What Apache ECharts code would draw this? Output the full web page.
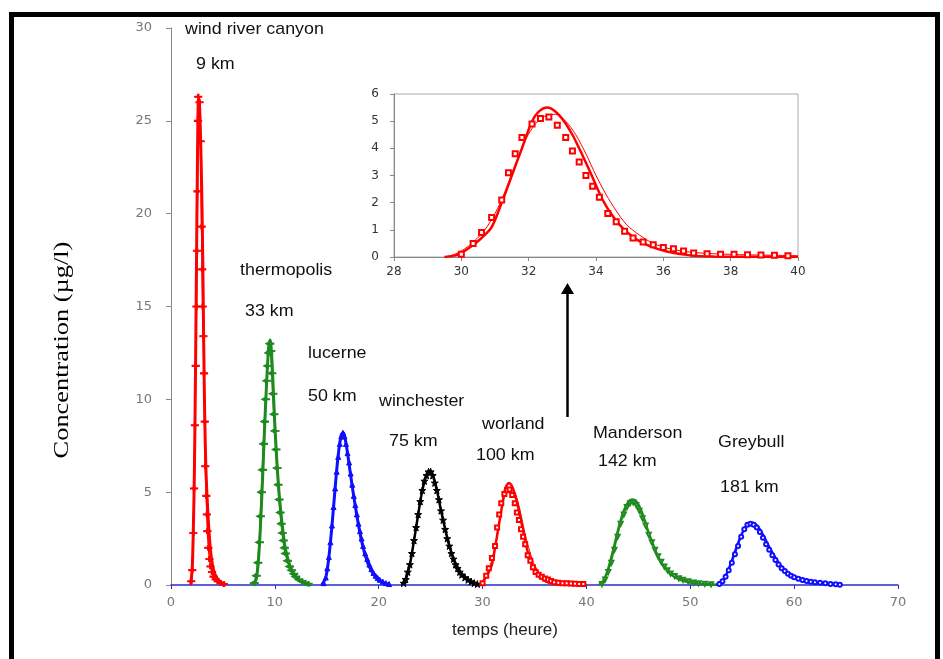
<!DOCTYPE html>
<html><head><meta charset="utf-8">
<script src="https://cdn.jsdelivr.net/npm/echarts@6/dist/echarts.min.js"></script>
<style>html,body{margin:0;padding:0;background:#fff}#c{width:943px;height:659px}</style>
</head><body><div id="c"></div>
<script>
// ---- data (time in hours, concentration in µg/l) ----
var xTicks = [0, 10, 20, 30, 40, 50, 60, 70];
var yTicks = [0, 5, 10, 15, 20, 25, 30];
var stationNames = ["wind river canyon", "thermopolis", "lucerne", "winchester", "worland", "Manderson", "Greybull"];
var stationDist = ["9 km", "33 km", "50 km", "75 km", "100 km", "142 km", "181 km"];

var sim1 = [[1.9,0],[2.05,1],[2.15,3],[2.25,6],[2.35,11],[2.45,17],[2.55,23],[2.65,26.2],[2.75,25.8],[2.85,24],[2.95,21.5],[3.05,18],[3.15,13],[3.25,9],[3.35,6.5],[3.45,5],[3.6,3.4],[3.75,2.2],[3.9,1.4],[4.1,0.8],[4.4,0.4],[4.8,0.15],[5.2,0]];
var obs1 = [[1.95,0.2],[2.05,0.8],[2.15,2.8],[2.22,5.2],[2.3,8.6],[2.38,11.8],[2.45,15.0],[2.5,18.0],[2.55,21.2],[2.6,25.0],[2.62,26.3],[2.75,26.0],[2.85,23.9],[2.95,19.3],[3.0,17.0],[3.05,15.0],[3.12,13.4],[3.18,11.4],[3.25,8.8],[3.3,6.4],[3.4,4.8],[3.45,3.8],[3.5,2.9],[3.6,2.0],[3.7,1.4],[3.8,1.0],[3.95,0.7],[4.1,0.45],[4.3,0.3],[4.5,0.2],[4.8,0.1],[5.1,0.05]];
var sim2 = [[7.9,0],[8.2,0.3],[8.4,1.2],[8.6,3],[8.8,5.5],[9.0,8.3],[9.2,10.8],[9.4,12.8],[9.55,13.2],[9.7,12.3],[9.85,10.5],[10.0,8.6],[10.2,6.6],[10.4,5.0],[10.6,3.8],[10.8,2.8],[11.0,2.0],[11.3,1.3],[11.6,0.8],[12.0,0.45],[12.5,0.2],[13.0,0.08],[13.5,0]];
var obs2 = [[8.0,0.1],[8.2,0.5],[8.35,1.2],[8.5,2.3],[8.6,3.7],[8.7,5.0],[8.8,6.2],[8.9,7.6],[9.0,8.8],[9.1,10.0],[9.2,11.0],[9.3,11.8],[9.4,12.5],[9.5,13.0],[9.6,12.6],[9.7,11.4],[9.8,10.3],[9.9,9.2],[10.0,8.3],[10.1,7.3],[10.2,6.3],[10.3,5.4],[10.4,4.6],[10.5,3.9],[10.6,3.3],[10.7,2.8],[10.8,2.4],[10.9,2.0],[11.0,1.7],[11.2,1.3],[11.4,1.0],[11.6,0.8],[11.8,0.6],[12.0,0.45],[12.3,0.3],[12.6,0.2],[12.9,0.12],[13.2,0.06]];
var sim3 = [[14.5,0],[14.9,0.4],[15.2,1.5],[15.5,3.2],[15.8,5.2],[16.1,7.0],[16.4,8.1],[16.6,8.2],[16.8,7.8],[17.1,6.7],[17.4,5.5],[17.7,4.4],[18.0,3.4],[18.3,2.5],[18.6,1.8],[19.0,1.1],[19.5,0.6],[20.0,0.3],[20.5,0.12],[21.0,0.04]];
var obs3 = [[14.7,0.1],[14.9,0.4],[15.05,0.9],[15.2,1.5],[15.35,2.3],[15.5,3.2],[15.65,4.2],[15.8,5.2],[15.95,6.1],[16.1,6.9],[16.25,7.6],[16.4,8.0],[16.55,8.2],[16.7,8.0],[16.85,7.6],[17.0,7.1],[17.15,6.6],[17.3,6.0],[17.45,5.4],[17.6,4.8],[17.75,4.3],[17.9,3.8],[18.05,3.3],[18.2,2.9],[18.35,2.5],[18.5,2.1],[18.7,1.7],[18.9,1.4],[19.1,1.1],[19.3,0.85],[19.5,0.65],[19.7,0.5],[19.9,0.38],[20.1,0.28],[20.4,0.18],[20.7,0.1],[21.0,0.05]];
var sim4 = [[22.2,0],[22.6,0.3],[23.0,1.1],[23.4,2.4],[23.8,3.8],[24.2,5.1],[24.6,5.9],[24.9,6.1],[25.2,5.9],[25.6,5.1],[26.0,4.0],[26.4,3.0],[26.8,2.1],[27.2,1.4],[27.6,0.9],[28.0,0.55],[28.5,0.3],[29.0,0.12],[29.6,0.03]];
var obs4 = [[22.4,0.1],[22.6,0.3],[22.8,0.7],[23.0,1.1],[23.2,1.7],[23.4,2.4],[23.6,3.1],[23.8,3.8],[24.0,4.5],[24.2,5.1],[24.4,5.6],[24.6,5.9],[24.8,6.1],[25.0,6.1],[25.2,5.9],[25.4,5.5],[25.6,5.1],[25.8,4.6],[26.0,4.0],[26.2,3.5],[26.4,3.0],[26.6,2.5],[26.8,2.1],[27.0,1.7],[27.2,1.4],[27.4,1.1],[27.6,0.9],[27.8,0.7],[28.0,0.55],[28.3,0.4],[28.6,0.28],[28.9,0.18],[29.2,0.1],[29.5,0.05]];
var sim5 = [[29.5,0],[29.8,0.05],[30.0,0.15],[30.3,0.4],[30.6,0.7],[30.9,1.1],[31.2,2.0],[31.5,3.0],[31.8,4.0],[32.1,5.0],[32.3,5.35],[32.55,5.5],[32.8,5.35],[33.05,5.0],[33.3,4.5],[33.5,4.0],[33.8,3.2],[34.2,2.1],[34.5,1.5],[34.8,1.05],[35.2,0.65],[35.6,0.4],[36.1,0.2],[36.8,0.06],[37.5,0.02],[40,0]];
var alt5 = [[29.5,0],[29.8,0.1],[30.1,0.3],[30.4,0.6],[30.7,1.0],[31.0,1.6],[31.3,2.4],[31.6,3.4],[31.9,4.3],[32.2,4.9],[32.5,5.2],[32.8,5.25],[33.1,5.0],[33.4,4.5],[33.7,3.8],[34.0,3.0],[34.3,2.3],[34.6,1.7],[34.9,1.2],[35.3,0.8],[35.7,0.5],[36.2,0.3],[36.8,0.18],[37.5,0.12],[38.5,0.08],[40,0.05]];
var obs5 = [[30.0,0.1],[30.35,0.5],[30.6,0.9],[30.9,1.45],[31.2,2.1],[31.4,3.1],[31.6,3.8],[31.8,4.4],[32.1,4.9],[32.35,5.1],[32.6,5.15],[32.85,4.85],[33.1,4.4],[33.3,3.9],[33.5,3.5],[33.7,3.0],[33.9,2.6],[34.1,2.2],[34.35,1.6],[34.6,1.3],[34.85,0.95],[35.1,0.7],[35.4,0.55],[35.7,0.45],[36.0,0.35],[36.3,0.3],[36.6,0.22],[36.9,0.15],[37.3,0.12],[37.7,0.1],[38.1,0.1],[38.5,0.08],[38.9,0.07],[39.3,0.06],[39.7,0.05]];
var sim6 = [[41.2,0],[41.6,0.2],[42.0,0.7],[42.4,1.5],[42.8,2.4],[43.2,3.3],[43.6,4.0],[44.0,4.45],[44.4,4.6],[44.8,4.5],[45.2,4.1],[45.6,3.5],[46.0,2.8],[46.4,2.2],[46.8,1.65],[47.2,1.2],[47.7,0.85],[48.2,0.55],[48.8,0.35],[49.5,0.2],[50.3,0.1],[51.2,0.05],[52.5,0.01]];
var obs6 = [[41.5,0.05],[41.8,0.3],[42.1,0.7],[42.4,1.2],[42.7,1.9],[43.0,2.6],[43.3,3.3],[43.6,3.8],[43.9,4.2],[44.2,4.4],[44.5,4.45],[44.8,4.3],[45.1,4.0],[45.4,3.6],[45.7,3.2],[46.0,2.7],[46.3,2.3],[46.6,1.9],[46.9,1.55],[47.2,1.25],[47.5,1.0],[47.8,0.8],[48.1,0.62],[48.5,0.48],[48.9,0.36],[49.3,0.28],[49.8,0.2],[50.3,0.14],[50.8,0.1],[51.4,0.07],[52.0,0.04]];
var sim7 = [[52.5,0],[53.0,0.15],[53.5,0.6],[54.0,1.3],[54.5,2.1],[55.0,2.8],[55.5,3.25],[56.0,3.35],[56.5,3.15],[57.0,2.7],[57.5,2.15],[58.0,1.65],[58.5,1.2],[59.0,0.85],[59.5,0.6],[60.0,0.42],[60.7,0.25],[61.5,0.14],[62.5,0.07],[63.5,0.03],[64.4,0.01]];
var obs7 = [[52.8,0.05],[53.1,0.2],[53.4,0.45],[53.7,0.8],[54.0,1.2],[54.3,1.65],[54.6,2.1],[54.9,2.6],[55.2,3.0],[55.5,3.25],[55.8,3.3],[56.1,3.25],[56.4,3.1],[56.7,2.85],[57.0,2.55],[57.3,2.2],[57.6,1.9],[57.9,1.6],[58.2,1.35],[58.5,1.1],[58.8,0.9],[59.1,0.75],[59.4,0.6],[59.7,0.5],[60.0,0.42],[60.4,0.34],[60.8,0.27],[61.2,0.22],[61.6,0.18],[62.0,0.15],[62.5,0.12],[63.0,0.09],[63.5,0.06],[64.0,0.04],[64.4,0.02]];

// ---- styling ----
var RED = '#ff0000', GREEN = '#1f8a1f', BLUE = '#1010ff', BLACK = '#000000';
var FONT = 'Liberation Sans, Arial, sans-serif';

function simSeries(data, color, w, xi) {
  return {type: 'line', data: data, xAxisIndex: xi || 0, yAxisIndex: xi || 0, showSymbol: false, symbol: 'none',
    smooth: 0.3, lineStyle: {color: color, width: w}, itemStyle: {color: color}, z: 3, silent: true, animation: false};
}
function obsSeries(data, color, symbol, size, lineW, xi, rot) {
  return {type: 'line', data: data, xAxisIndex: xi || 0, yAxisIndex: xi || 0, showSymbol: true, symbol: symbol,
    symbolSize: size, symbolRotate: rot || 0, lineStyle: {color: color, width: lineW, opacity: lineW ? 1 : 0},
    itemStyle: {color: color, borderColor: color, borderWidth: 1}, z: 4, silent: true, animation: false};
}

var dashSym = 'path://M0,3 L10,3 L10,5 L0,5 Z M4,0 L6,0 L6,8 L4,8 Z';
var leftTri = 'path://M0,4 L7,0 L7,3 L12,3 L12,5 L7,5 L7,8 Z';
var starSym = 'path://M5,0 L6.2,3.6 L10,3.6 L7,5.9 L8.1,9.5 L5,7.3 L1.9,9.5 L3,5.9 L0,3.6 L3.8,3.6 Z';

var series = [
  simSeries(sim1, RED, 3), obsSeries(obs1, RED, dashSym, [7, 5], 1.5),
  simSeries(sim2, GREEN, 3), obsSeries(obs2, GREEN, leftTri, [8, 5], 1.5),
  simSeries(sim3, BLUE, 3), obsSeries(obs3, BLUE, 'triangle', 5, 1.5),
  simSeries(sim4, BLACK, 2.5), obsSeries(obs4, BLACK, starSym, 7, 1.2),
  simSeries(sim5, RED, 2.5), simSeries(alt5, RED, 1), obsSeries(obs5, RED, 'emptyRect', 4, 0),
  simSeries(sim6, GREEN, 2.5), obsSeries(obs6, GREEN, 'emptyTriangle', 4, 1, 0, 180),
  simSeries(sim7, BLUE, 2.5), obsSeries(obs7, BLUE, 'emptyCircle', 4, 1),
  // inset
  simSeries(sim5, RED, 2.5, 1), simSeries(alt5, RED, 1, 1), obsSeries(obs5, RED, 'emptyRect', 5, 0, 1)
];

var labelPos = [[185, 29], [196, 64], [240, 270], [245, 311], [308, 353], [308, 396], [379, 401], [389, 441],
                [482, 424], [476, 455], [593, 433], [598, 461], [718, 442], [720, 487]];
var texts = [];
for (var i = 0; i < stationNames.length; i++) {
  texts.push(stationNames[i]); texts.push(stationDist[i]);
}
var graphics = texts.map(function (t, k) {
  return {type: 'text', x: labelPos[k][0], y: labelPos[k][1], silent: true, scaleX: 1.05,
    style: {text: t, fill: '#111', font: '17px ' + FONT, textAlign: 'left', textVerticalAlign: 'middle'}};
});
graphics.push({type: 'text', x: 62, y: 350, rotation: Math.PI / 2, scaleX: 1.2, silent: true,
  style: {text: 'Concentration (µg/l)', fill: '#000', font: '22px "Liberation Serif", "Times New Roman", serif',
    textAlign: 'center', textVerticalAlign: 'middle'}});
graphics.push({type: 'text', x: 505, y: 630, silent: true,
  style: {text: 'temps (heure)', fill: '#222', font: '17px ' + FONT, textAlign: 'center', textVerticalAlign: 'middle'}});
graphics.push({type: 'rect', shape: {x: 11.5, y: 14.5, width: 926, height: 700}, silent: true,
  style: {fill: 'none', stroke: '#000', lineWidth: 5}});
graphics.push({type: 'line', shape: {x1: 567.5, y1: 417, x2: 567.5, y2: 292}, silent: true,
  style: {stroke: '#000', lineWidth: 2.5}});
graphics.push({type: 'polygon', shape: {points: [[567.5, 283], [561, 294], [574, 294]]}, silent: true,
  style: {fill: '#000'}});

var chart = echarts.init(document.getElementById('c'), null, {renderer: 'canvas'});
chart.setOption({
  animation: false,
  backgroundColor: '#fff',
  grid: [
    {left: 171, right: 45, top: 28, bottom: 74, containLabel: false},
    {left: 394, width: 404, top: 94, height: 163, show: true, borderColor: '#aaaaaa', borderWidth: 1, backgroundColor: 'transparent'}
  ],
  xAxis: [
    {type: 'value', gridIndex: 0, min: xTicks[0], max: xTicks[xTicks.length - 1], interval: 10,
      axisLine: {onZero: false, lineStyle: {color: '#2a2acc', width: 1.5}},
      axisTick: {show: true, length: 4, lineStyle: {color: '#2a2acc'}},
      axisLabel: {color: '#777', fontSize: 13, fontFamily: 'DejaVu Sans', margin: 11},
      splitLine: {show: false}},
    {type: 'value', gridIndex: 1, min: 28, max: 40, interval: 2,
      axisLine: {onZero: false, lineStyle: {color: '#888'}},
      axisTick: {show: true, length: 4, lineStyle: {color: '#888'}},
      axisLabel: {color: '#333', fontSize: 12, fontFamily: 'DejaVu Sans', margin: 9},
      splitLine: {show: false}}
  ],
  yAxis: [
    {type: 'value', gridIndex: 0, min: yTicks[0], max: yTicks[yTicks.length - 1], interval: 5,
      axisLine: {show: true, lineStyle: {color: '#888'}},
      axisTick: {show: true, length: 5, lineStyle: {color: '#888'}},
      axisLabel: {color: '#777', fontSize: 13, fontFamily: 'DejaVu Sans', margin: 19},
      splitLine: {show: false}},
    {type: 'value', gridIndex: 1, min: 0, max: 6, interval: 1,
      axisLine: {show: true, lineStyle: {color: '#888'}},
      axisTick: {show: true, length: 4, lineStyle: {color: '#888'}},
      axisLabel: {color: '#333', fontSize: 12, fontFamily: 'DejaVu Sans', margin: 15},
      splitLine: {show: false}}
  ],
  series: series,
  graphic: graphics
});
</script></body></html>
